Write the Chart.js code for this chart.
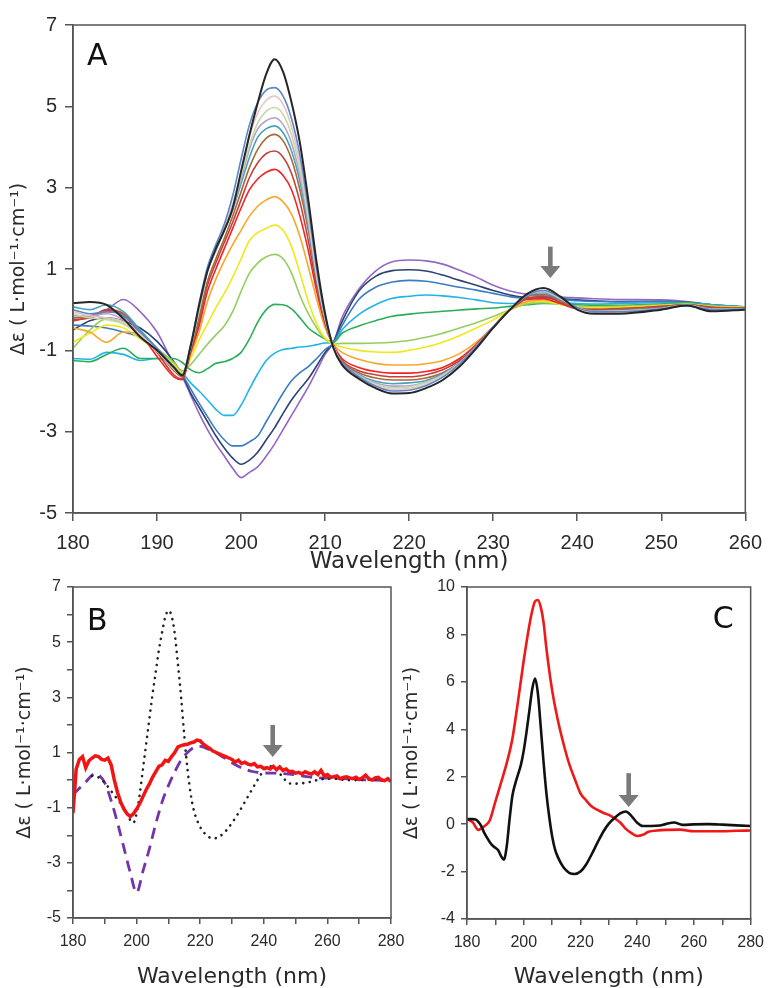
<!DOCTYPE html>
<html>
<head>
<meta charset="utf-8">
<script src="https://cdn.jsdelivr.net/npm/chart.js@4"></script>
<style>
  body { margin: 0; background: #fff; width: 772px; height: 988px; position: relative; overflow: hidden; }
  canvas { position: absolute; }
  #chartA { left: 0; top: 0; }
  #chartB { left: 0; top: 560px; }
  #chartC { left: 400px; top: 560px; }
</style>
</head>
<body>
<canvas id="chartA" width="772" height="580"></canvas>
<canvas id="chartB" width="430" height="428"></canvas>
<canvas id="chartC" width="372" height="428"></canvas>
<script>
// ---------- panel A : titration series ----------
const xA = [180,182,184,186,188,190,192,193,194,195,196,197,198,199,200,201,202,203,204,205,206,207,208,209,210,211,212,214,216,218,220,222,224,226,228,230,232,234,236,238,240,242,245,250,253,256,260];

const aBlack    = [0.16,0.19,0.12,-0.22,-0.67,-1.0,-1.42,-1.62,-0.9,0.1,0.95,1.5,1.95,2.5,3.4,4.3,5.1,5.8,6.16,5.85,5.1,4.1,2.7,1.15,-0.1,-0.95,-1.35,-1.7,-1.93,-2.06,-2.05,-1.93,-1.73,-1.4,-0.95,-0.45,0.0,0.38,0.53,0.32,0.0,-0.1,-0.1,0.0,0.1,-0.04,0.0];
const aBlue     = [0.0,-0.1,-0.05,-0.15,-0.55,-0.95,-1.4,-1.6,-0.85,0.15,1.05,1.6,2.1,2.8,3.7,4.55,5.1,5.4,5.46,5.25,4.7,3.8,2.5,1.0,-0.15,-0.95,-1.3,-1.65,-1.88,-2.0,-1.98,-1.87,-1.66,-1.33,-0.9,-0.42,0.0,0.35,0.47,0.3,0.05,-0.05,-0.05,0.02,0.1,0.0,0.02];
const aPink     = [-0.05,-0.15,-0.2,-0.3,-0.6,-1.0,-1.45,-1.62,-0.9,0.05,0.95,1.5,2.0,2.6,3.4,4.25,4.85,5.15,5.25,5.05,4.5,3.6,2.35,0.9,-0.2,-0.92,-1.32,-1.65,-1.86,-1.96,-1.94,-1.84,-1.64,-1.33,-0.9,-0.43,0.0,0.36,0.46,0.29,0.04,-0.06,-0.05,0.02,0.1,0.0,0.02];
const aPaleGrn  = [-0.1,-0.2,-0.25,-0.35,-0.65,-1.02,-1.45,-1.62,-0.92,0.0,0.95,1.5,2.0,2.55,3.3,4.05,4.6,4.88,4.97,4.8,4.3,3.45,2.25,0.85,-0.2,-0.92,-1.32,-1.63,-1.83,-1.92,-1.9,-1.8,-1.62,-1.32,-0.9,-0.43,0.0,0.36,0.45,0.28,0.04,-0.05,-0.04,0.02,0.11,0.0,0.02];
const aLavender = [-0.15,-0.15,-0.1,-0.25,-0.6,-1.0,-1.45,-1.62,-0.92,0.0,0.95,1.5,2.0,2.5,3.2,3.95,4.45,4.65,4.72,4.55,4.1,3.3,2.15,0.8,-0.2,-0.92,-1.3,-1.62,-1.8,-1.88,-1.87,-1.78,-1.6,-1.31,-0.9,-0.43,0.0,0.36,0.44,0.27,0.05,-0.04,-0.03,0.03,0.11,0.01,0.02];
const aTeal     = [0.07,0.0,0.12,-0.05,-0.5,-0.95,-1.42,-1.6,-0.92,0.0,0.95,1.45,1.95,2.45,3.1,3.75,4.25,4.45,4.52,4.35,3.9,3.15,2.05,0.75,-0.25,-0.92,-1.3,-1.6,-1.76,-1.82,-1.8,-1.74,-1.58,-1.3,-0.9,-0.44,0.0,0.35,0.42,0.25,0.04,-0.03,-0.02,0.04,0.12,0.02,0.03];
const aBrown    = [-0.2,-0.2,-0.05,-0.1,-0.55,-1.0,-1.5,-1.65,-0.95,-0.2,0.7,1.25,1.75,2.3,2.9,3.5,3.95,4.22,4.31,4.15,3.7,2.95,1.95,0.7,-0.25,-0.9,-1.28,-1.55,-1.68,-1.73,-1.73,-1.68,-1.55,-1.3,-0.9,-0.44,0.0,0.32,0.38,0.22,0.03,-0.02,0.0,0.05,0.12,0.03,0.03];
const aDarkRed  = [-0.25,-0.2,0.0,-0.1,-0.55,-1.05,-1.6,-1.7,-1.0,-0.3,0.6,1.15,1.65,2.15,2.7,3.25,3.62,3.84,3.9,3.75,3.35,2.65,1.7,0.55,-0.3,-0.9,-1.25,-1.5,-1.6,-1.65,-1.65,-1.6,-1.48,-1.25,-0.88,-0.43,0.0,0.28,0.32,0.18,0.03,0.0,0.02,0.07,0.12,0.05,0.03];
const aRed      = [-0.28,-0.18,-0.02,-0.15,-0.58,-1.15,-1.65,-1.72,-1.05,-0.4,0.45,1.0,1.5,2.0,2.5,2.95,3.22,3.38,3.45,3.3,2.95,2.3,1.45,0.45,-0.35,-0.88,-1.2,-1.42,-1.52,-1.56,-1.56,-1.52,-1.42,-1.2,-0.85,-0.42,0.0,0.25,0.27,0.15,0.02,0.0,0.02,0.08,0.12,0.06,0.04];
const aOrange   = [-0.45,-0.55,-0.8,-0.55,-0.62,-1.0,-1.45,-1.6,-1.1,-0.55,0.2,0.75,1.2,1.6,1.95,2.3,2.55,2.7,2.78,2.65,2.35,1.8,1.05,0.25,-0.45,-0.86,-1.05,-1.22,-1.32,-1.36,-1.36,-1.33,-1.25,-1.08,-0.8,-0.42,-0.02,0.2,0.24,0.15,0.05,0.02,0.04,0.08,0.12,0.07,0.05];
const aYellow   = [-0.8,-0.58,-0.38,-0.45,-0.72,-1.0,-1.35,-1.55,-1.2,-0.75,-0.35,0.05,0.4,0.8,1.25,1.7,1.9,2.0,2.08,1.95,1.55,0.9,0.2,-0.35,-0.7,-0.85,-0.92,-1.0,-1.04,-1.05,-1.0,-0.92,-0.8,-0.64,-0.45,-0.25,0.0,0.18,0.2,0.13,0.06,0.05,0.06,0.1,0.13,0.08,0.06];
const aLightGrn = [-0.95,-0.5,-0.22,-0.35,-0.6,-0.95,-1.3,-1.5,-1.35,-1.1,-0.85,-0.62,-0.4,-0.05,0.45,0.9,1.15,1.3,1.36,1.25,0.9,0.35,-0.1,-0.45,-0.72,-0.85,-0.83,-0.83,-0.82,-0.8,-0.76,-0.68,-0.58,-0.45,-0.32,-0.17,0.0,0.14,0.17,0.13,0.08,0.07,0.08,0.12,0.14,0.09,0.06];
const aGreen    = [-1.25,-1.28,-1.1,-0.95,-1.2,-1.2,-1.2,-1.3,-1.48,-1.55,-1.45,-1.32,-1.28,-1.2,-1.05,-0.72,-0.3,0.0,0.13,0.12,0.02,-0.2,-0.45,-0.6,-0.72,-0.8,-0.58,-0.4,-0.27,-0.16,-0.11,-0.07,-0.04,-0.01,0.02,0.04,0.08,0.12,0.15,0.14,0.12,0.11,0.11,0.14,0.16,0.1,0.07];
const aLightBlu = [-1.2,-1.22,-1.05,-1.1,-1.25,-1.2,-1.35,-1.55,-1.8,-2.0,-2.22,-2.45,-2.6,-2.6,-2.35,-1.95,-1.57,-1.25,-1.07,-0.98,-0.95,-0.92,-0.9,-0.86,-0.82,-0.8,-0.5,-0.12,0.12,0.28,0.33,0.36,0.34,0.3,0.24,0.17,0.15,0.16,0.18,0.17,0.15,0.14,0.15,0.17,0.17,0.12,0.07];
const aSteelBlu = [-0.38,-0.4,-0.45,-0.55,-0.68,-1.0,-1.4,-1.6,-1.95,-2.3,-2.63,-2.95,-3.2,-3.35,-3.35,-3.25,-3.1,-2.75,-2.4,-2.05,-1.75,-1.55,-1.4,-1.2,-0.98,-0.82,-0.4,0.25,0.55,0.68,0.72,0.7,0.63,0.55,0.48,0.4,0.32,0.28,0.28,0.25,0.22,0.2,0.19,0.2,0.18,0.12,0.07];
const aNavy     = [-0.5,-0.27,-0.2,-0.28,-0.45,-0.78,-1.28,-1.6,-2.05,-2.4,-2.75,-3.1,-3.4,-3.65,-3.8,-3.7,-3.5,-3.2,-2.9,-2.55,-2.22,-1.95,-1.7,-1.38,-1.05,-0.8,-0.3,0.45,0.82,0.96,0.98,0.95,0.85,0.72,0.6,0.47,0.36,0.3,0.3,0.27,0.24,0.22,0.2,0.2,0.18,0.12,0.07];
const aPurple   = [-0.2,-0.15,0.0,0.25,-0.05,-0.55,-1.35,-1.65,-2.1,-2.55,-2.95,-3.3,-3.6,-3.9,-4.13,-4.0,-3.86,-3.6,-3.3,-2.95,-2.6,-2.25,-1.9,-1.5,-1.1,-0.8,-0.2,0.5,0.95,1.18,1.22,1.2,1.12,0.97,0.8,0.6,0.46,0.38,0.34,0.31,0.29,0.27,0.25,0.24,0.2,0.12,0.06];

const curvesA  = [aBlack, aBlue, aPink, aPaleGrn, aLavender, aTeal, aBrown, aDarkRed, aRed, aOrange, aYellow, aLightGrn, aGreen, aLightBlu, aSteelBlu, aNavy, aPurple];
const coloursA = ['#262626','#5b87c9','#e4c6c6','#c8daa6','#b2a2d2','#46a3ba','#a8693b','#c4403c','#f42222','#f8a72c','#f0e81e','#95cd60','#2aae5a','#22b4e8','#3c7cc0','#2c4272','#9466c6'];
const xTicksA  = [180,190,200,210,220,230,240,250,260];
const yTicksA  = [-5,-3,-1,1,3,5,7];

// ---------- panel B ----------
const xBred = [];
for (let w = 180; w <= 280; w++) xBred.push(w);
const bRed = [-1.2,0.4,0.75,0.85,0.45,0.7,0.8,0.88,0.85,0.75,0.72,0.8,0.55,0.0,-0.45,-0.8,-1.05,-1.22,-1.32,-1.22,-1.05,-0.85,-0.6,-0.35,-0.15,0.1,0.3,0.5,0.55,0.72,0.68,0.85,1.0,1.2,1.25,1.28,1.3,1.35,1.38,1.45,1.42,1.3,1.22,1.15,1.05,1.0,0.95,0.9,0.85,0.8,0.75,0.65,0.72,0.6,0.65,0.58,0.55,0.6,0.48,0.5,0.42,0.45,0.4,0.5,0.38,0.48,0.35,0.4,0.3,0.32,0.25,0.28,0.22,0.3,0.25,0.22,0.3,0.2,0.35,0.15,0.2,0.1,0.12,0.15,0.05,0.1,0.12,0.08,0.05,0.1,0.02,0.08,0.18,0.05,0.0,0.08,0.1,0.0,-0.02,0.05,-0.05];
const xBdot = [186,188,190,192,194,196,197,198,199,200,201,202,203,204,205,206,207,208,209,210,211,212,213,214,215,216,217,218,220,222,224,226,228,230,232,234,236,238,240,242,244,246,248,250,254,258,262,266,270,275,280];
const bDot  = [0.15,0.1,-0.1,-0.4,-0.7,-1.0,-1.2,-1.45,-1.55,-1.2,-0.5,0.4,1.3,2.2,3.1,3.9,4.7,5.35,5.9,6.15,5.95,5.3,4.2,3.0,1.6,0.4,-0.5,-1.1,-1.7,-2.0,-2.12,-2.05,-1.85,-1.55,-1.2,-0.8,-0.4,0.0,0.35,0.5,0.38,0.1,-0.12,-0.13,-0.08,0.03,0.05,0.0,0.0,0.02,0.0];
const xBdash = [180,182,184,186,187,188,190,192,194,196,198,200,202,204,206,208,210,212,214,216,218,220,222,224,226,228,230,232,234,236,238,240,244,248,252,256,260,265,270,275,280];
const bDash  = [-0.53,-0.3,-0.07,0.18,0.25,0.2,-0.1,-0.75,-1.55,-2.45,-3.35,-4.08,-3.3,-2.5,-1.6,-0.8,-0.2,0.3,0.72,1.0,1.18,1.22,1.15,1.05,0.92,0.78,0.63,0.5,0.4,0.32,0.28,0.26,0.25,0.22,0.15,0.09,0.07,0.05,0.02,0.0,-0.02];
const xTicksB  = [180,190,200,210,220,230,240,250,260,270,280];
const xLabelsB = [180,200,220,240,260,280];
const yTicksB  = [-5,-4,-3,-2,-1,0,1,2,3,4,5,6,7];
const yLabelsB = [-5,-3,-1,1,3,5,7];

// ---------- panel C ----------
const xCred = [180,182,184,186,188,190,192,194,196,198,200,202,203,204,205,206,207,208,210,212,214,216,218,220,222,224,226,228,230,232,234,236,238,240,242,244,247,250,255,260,265,270,275,280];
const cRed  = [0.21,0.08,-0.24,-0.1,0.15,0.95,1.75,2.57,3.6,5.2,6.9,8.4,9.0,9.4,9.45,9.15,8.5,7.4,5.65,4.4,3.4,2.55,1.9,1.3,1.0,0.74,0.6,0.48,0.39,0.25,0.07,-0.2,-0.38,-0.5,-0.45,-0.32,-0.27,-0.24,-0.23,-0.3,-0.3,-0.3,-0.28,-0.27];
const xCblack = [180,182,183,184,185,186,187,188,189,190,191,192,193,194,195,196,197,198,199,200,201,202,203,204,205,206,207,208,209,210,211,212,214,216,218,220,222,224,226,228,230,232,234,236,238,240,242,245,248,250,253,256,260,265,270,275,280];
const cBlack  = [0.21,0.21,0.2,0.1,-0.07,-0.35,-0.56,-0.75,-0.9,-1.0,-1.1,-1.35,-1.5,-0.94,0.2,1.2,1.7,2.1,2.5,3.1,3.9,4.8,5.7,6.14,5.5,4.1,2.6,1.3,0.3,-0.5,-1.05,-1.38,-1.82,-2.05,-2.1,-2.0,-1.7,-1.26,-0.78,-0.33,0.02,0.26,0.45,0.53,0.34,0.06,-0.08,-0.08,-0.06,0.0,0.07,-0.03,-0.01,0.0,-0.02,-0.05,-0.08];
const xTicksC  = [180,190,200,210,220,230,240,250,260,270,280];
const xLabelsC = [180,200,220,240,260,280];
const yTicksC  = [-4,-2,0,2,4,6,8,10];

// arrows: wavelength, top of shaft and tip (data units)
const arrowA = [236.8, 1.55, 0.78];
const arrowB = [242.8, 2.0, 0.84];
const arrowC = [237.0, 2.15, 0.72];

const yTitle = 'Δε ( L·mol⁻¹·cm⁻¹)';
const axisColour = '#555';
const tickFont = 'Liberation Sans';
const titleFont = 'DejaVu Sans';

function pts(xs, ys) {
    return xs.map((x, i) => ({ x: x, y: ys[i] }));
}

const framePlugin = {
    id: 'frame',
    afterDatasetsDraw(chart) {
        const { ctx, chartArea: a } = chart;
        ctx.save();
        ctx.strokeStyle = axisColour;
        ctx.lineWidth = 1.5;
        ctx.strokeRect(a.left, a.top, a.right - a.left, a.bottom - a.top);
        ctx.restore();
    }
};

// panel letter and grey arrow
const marksPlugin = {
    id: 'marks',
    afterDraw(chart, args, opts) {
        const { ctx, chartArea: a, scales } = chart;
        ctx.save();
        ctx.fillStyle = '#111';
        ctx.font = '30px "DejaVu Sans"';
        ctx.textBaseline = 'alphabetic';
        const lx = opts.fromRight ? a.right - opts.dx : a.left + opts.dx;
        ctx.fillText(opts.letter, lx, a.top + opts.dy);

        const ax = scales.x.getPixelForValue(opts.arrow[0]);
        const top = scales.y.getPixelForValue(opts.arrow[1]);
        const tip = scales.y.getPixelForValue(opts.arrow[2]);
        ctx.fillStyle = '#7a7a7a';
        ctx.fillRect(ax - 2.3, top, 4.6, tip - top - 10);
        ctx.beginPath();
        ctx.moveTo(ax - 10, tip - 12);
        ctx.lineTo(ax + 10, tip - 12);
        ctx.lineTo(ax, tip);
        ctx.closePath();
        ctx.fill();
        ctx.restore();
    }
};

function makeOptions(cfg) {
    return {
        responsive: false,
        animation: false,
        events: [],
        layout: { padding: cfg.padding },
        plugins: {
            legend: { display: false },
            tooltip: { enabled: false },
            marks: cfg.marks
        },
        elements: { point: { radius: 0 } },
        scales: {
            x: {
                type: 'linear',
                min: cfg.xMin, max: cfg.xMax,
                afterFit: s => { s.height = cfg.xHeight; },
                afterBuildTicks: s => { s.ticks = cfg.xTicks.map(v => ({ value: v })); },
                border: { display: true, color: axisColour, width: 1.5 },
                grid: { display: true, drawOnChartArea: false, drawTicks: true, tickLength: cfg.tickLen, color: axisColour, lineWidth: 1.5 },
                ticks: {
                    autoSkip: false, maxRotation: 0, padding: cfg.xPad, color: '#2a2a2a',
                    font: { family: tickFont, size: cfg.tickSize },
                    callback: v => cfg.xLabels.includes(v) ? String(v) : ''
                },
                title: { display: true, text: 'Wavelength (nm)', color: '#2a2a2a', font: { family: titleFont, size: cfg.xTitleSize, lineHeight: 1.0 }, padding: { top: 0, bottom: cfg.xTitlePad } }
            },
            y: {
                type: 'linear',
                min: cfg.yMin, max: cfg.yMax,
                afterFit: s => { s.width = cfg.yWidth; },
                afterBuildTicks: s => { s.ticks = cfg.yTicks.map(v => ({ value: v })); },
                border: { display: true, color: axisColour, width: 1.5 },
                grid: { display: true, drawOnChartArea: false, drawTicks: true, tickLength: cfg.tickLen, color: axisColour, lineWidth: 1.5 },
                ticks: {
                    autoSkip: false, padding: cfg.yPad, color: '#2a2a2a',
                    font: { family: tickFont, size: cfg.tickSize },
                    callback: v => cfg.yLabels.includes(v) ? String(v) : ''
                },
                title: { display: true, text: yTitle, color: '#2a2a2a', font: { family: titleFont, size: 19 }, padding: { top: cfg.yTitlePad, bottom: 0 } }
            }
        }
    };
}

// panel A
new Chart(document.getElementById('chartA'), {
    type: 'line',
    data: {
        datasets: curvesA.map((ys, i) => ({
            data: pts(xA, ys),
            borderColor: coloursA[i],
            borderWidth: i === 0 ? 2 : 1.6,
            cubicInterpolationMode: 'monotone',
            fill: false
        }))
    },
    options: makeOptions({
        padding: { top: 25, right: 20, left: 0, bottom: 0 },
        xMin: 180, xMax: 260, yMin: -5, yMax: 7,
        xTicks: xTicksA, xLabels: xTicksA, yTicks: yTicksA, yLabels: yTicksA,
        xHeight: 67, yWidth: 73, tickLen: 8, tickSize: 20, xPad: 10, yPad: 8,
        xTitleSize: 23, xTitlePad: 6, yTitlePad: 8,
        marks: { letter: 'A', dx: 14, dy: 40, arrow: arrowA }
    }),
    plugins: [framePlugin, marksPlugin]
});

// panel B
new Chart(document.getElementById('chartB'), {
    type: 'line',
    data: {
        datasets: [
            { data: pts(xBred, bRed), borderColor: '#f21414', borderWidth: 3.5, tension: 0, fill: false },
            { data: pts(xBdot, bDot), borderColor: '#222', borderWidth: 2.6, borderDash: [0.1, 6.5], borderCapStyle: 'round', cubicInterpolationMode: 'monotone', fill: false },
            { data: pts(xBdash, bDash), borderColor: '#7435a8', borderWidth: 2.8, borderDash: [11, 7], cubicInterpolationMode: 'monotone', fill: false }
        ]
    },
    options: makeOptions({
        padding: { top: 27, right: 39, left: 0, bottom: 0 },
        xMin: 180, xMax: 280, yMin: -5, yMax: 7,
        xTicks: xTicksB, xLabels: xLabelsB, yTicks: yTicksB, yLabels: yLabelsB,
        xHeight: 70, yWidth: 73, tickLen: 6, tickSize: 16, xPad: 8, yPad: 6,
        xTitleSize: 22, xTitlePad: 0, yTitlePad: 14,
        marks: { letter: 'B', dx: 14, dy: 43, arrow: arrowB }
    }),
    plugins: [framePlugin, marksPlugin]
});

// panel C
new Chart(document.getElementById('chartC'), {
    type: 'line',
    data: {
        datasets: [
            { data: pts(xCblack, cBlack), borderColor: '#111', borderWidth: 2.6, cubicInterpolationMode: 'monotone', fill: false },
            { data: pts(xCred, cRed), borderColor: '#f01818', borderWidth: 2.6, cubicInterpolationMode: 'monotone', fill: false }
        ]
    },
    options: makeOptions({
        padding: { top: 27, right: 19, left: 0, bottom: 0 },
        xMin: 180, xMax: 280, yMin: -4, yMax: 10,
        xTicks: xTicksC, xLabels: xLabelsC, yTicks: yTicksC, yLabels: yTicksC,
        xHeight: 69, yWidth: 67, tickLen: 6, tickSize: 16, xPad: 8, yPad: 6,
        xTitleSize: 22, xTitlePad: 0, yTitlePad: 1,
        marks: { letter: 'C', dx: 38, dy: 41, fromRight: true, arrow: arrowC }
    }),
    plugins: [framePlugin, marksPlugin]
});
</script>
</body>
</html>
